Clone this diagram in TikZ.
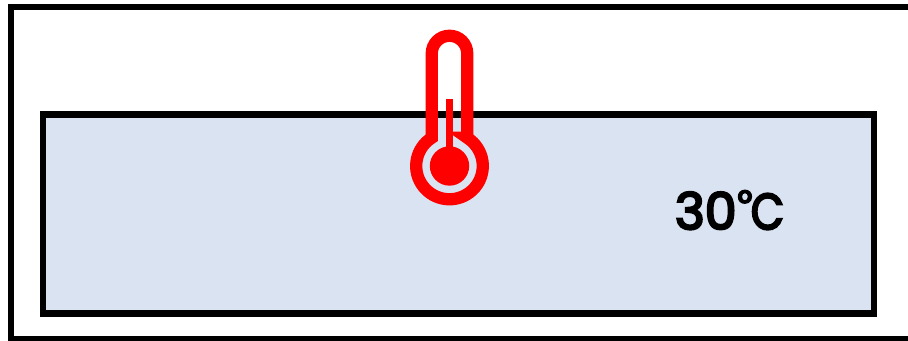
\documentclass[tikz,border=0pt]{standalone}
\usepackage{fontspec}
\newfontfamily\readfont{Poppins}[FakeBold=4.5]
\definecolor{tankblue}{HTML}{DAE3F1}
\definecolor{thermored}{HTML}{FF0000}
\tikzset{
  outerbox/.style={draw=black,line width=4.9pt},
  tank/.style={draw=black,fill=tankblue,line width=4.9pt},
  thermo/.style={draw=thermored,line width=9.2pt,miter limit=10},
  reading/.style={text=black,font=\readfont\fontsize{38pt}{40pt}\selectfont,inner sep=0pt,anchor=center}
}
\begin{document}
\begin{tikzpicture}[x=0.75pt,y=-0.75pt]
\useasboundingbox (0,0) rectangle (908,341);
\fill[white] (0,0) rectangle (908,341);
\begin{scope}
\clip (0,0) rectangle (908,341);
\draw[outerbox] (10.8,7) rectangle (930,339);
\end{scope}
\draw[tank] (43,114.5) rectangle (874,313.5);
% thermometer
\draw[thermo] (467.25,137.8) -- (467.25,53.5) arc[start angle=0,end angle=-180,radius=17.75] -- (431.75,137.8)
  arc[start angle=-122.2,delta angle=-295.6,radius=33.3] -- cycle;
\fill[thermored] (449.5,166) circle[radius=19.7];
\fill[thermored] (445.7,99) rectangle (453.3,170);
\node[reading] (temp) at (729.5,210) {30\kern0.02em\raisebox{0.27em}{\fontsize{27pt}{27pt}\selectfont °}\kern-0.03em\scalebox{0.85}[1]{C}};
\end{tikzpicture}
\end{document}
